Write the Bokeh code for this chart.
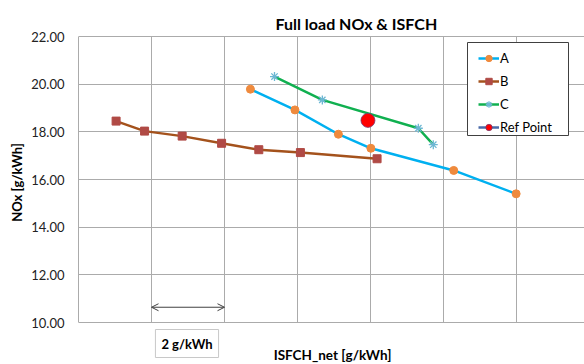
from bokeh.plotting import figure
from bokeh.models import (FixedTicker, Label, Legend, LegendItem, Arrow, OpenHead,
                          BoxAnnotation, NumeralTickFormatter, Range1d)
from bokeh.embed import file_html
from bokeh.resources import INLINE

title_text = "Full load NOx & ISFCH"
x_label = "ISFCH_net [g/kWh]"
y_label = "NOx [g/kWh]"
scale_label = "2 g/kWh"

# x values are relative (no tick labels in the original); grid every 2 g/kWh
a_x = [4.71, 5.93, 7.12, 8.01, 10.28, 11.99]
a_y = [19.79, 18.92, 17.90, 17.31, 16.38, 15.40]
b_x = [1.03, 1.81, 2.84, 3.92, 4.94, 6.08, 8.18]
b_y = [18.45, 18.03, 17.82, 17.52, 17.25, 17.13, 16.87]
c_x = [5.37, 6.68, 9.31, 9.72]
c_y = [20.32, 19.34, 18.15, 17.46]
ref_x = [7.93]
ref_y = [18.48]

x_grid = [0, 2, 4, 6, 8, 10, 12]
y_ticks = [10, 12, 14, 16, 18, 20, 22]
y_min, y_max = 10, 22
scale_start, scale_end, scale_y = 2, 4, 10.64

FONT = "Lato"
GRID = "#ababab"

# the frame covers the page right of the y axis so that the title and the
# texts under the x axis stay inside it; the data area is 36..322 px
px_per_unit = 286 / (y_max - y_min)
y_low = y_min - 42 / px_per_unit
y_high = y_max + 36 / px_per_unit

p = figure(width=584, height=364, output_backend="svg", toolbar_location=None,
           x_range=Range1d(0, 13.863), y_range=Range1d(y_low, y_high),
           x_axis_location=None,
           min_border_left=78, min_border_right=0, min_border_top=0, min_border_bottom=0)
p.outline_line_color = None
p.background_fill_color = "white"

p.yaxis.ticker = FixedTicker(ticks=y_ticks)
p.yaxis.bounds = (y_min, y_max)
p.yaxis.formatter = NumeralTickFormatter(format="0.00")
p.yaxis.major_tick_line_color = None
p.yaxis.minor_tick_line_color = None
p.yaxis.major_tick_out = 0
p.yaxis.major_label_standoff = 14
p.yaxis.axis_line_color = GRID
p.yaxis.major_label_text_font = FONT
p.yaxis.major_label_text_font_size = "13px"
p.yaxis.major_label_text_color = "#222222"
p.yaxis.axis_label = y_label
p.yaxis.axis_label_text_font = FONT
p.yaxis.axis_label_text_font_style = "bold"
p.yaxis.axis_label_text_font_size = "13px"
p.yaxis.axis_label_text_color = "#000000"
p.yaxis.axis_label_standoff = 3

p.xgrid.ticker = FixedTicker(ticks=x_grid)
p.xgrid.cross_bounds = (y_min, y_max)
p.xgrid.grid_line_color = GRID
p.ygrid.grid_line_color = GRID

ra_l = p.line(a_x, a_y, line_color="#00b0f0", line_width=2.5)
ra_m = p.scatter(a_x, a_y, marker="circle", size=8, fill_color="#ef8a3d", line_color="#ef8a3d")
rb_l = p.line(b_x, b_y, line_color="#a4521c", line_width=2.5)
rb_m = p.scatter(b_x, b_y, marker="square", size=8, fill_color="#b04a45", line_color="#b04a45")
rc_l = p.line(c_x, c_y, line_color="#10b050", line_width=2.5)
rc_m = p.scatter(c_x, c_y, marker="asterisk", size=9, fill_color=None, line_color="#6db7d3", line_width=1.3)
rr_l = p.line(ref_x, ref_y, line_color="#4a6aa8", line_width=2.5)
rr_m = p.scatter(ref_x, ref_y, marker="circle", size=14, fill_color="#ff0000", line_color="#7a3a70", line_width=0.8)

# scale arrow
p.add_layout(Arrow(x_start=scale_start, x_end=scale_end, y_start=scale_y, y_end=scale_y,
                   line_color="#404040", line_width=1,
                   start=OpenHead(size=7, line_color="#404040", line_width=1),
                   end=OpenHead(size=7, line_color="#404040", line_width=1)))

# legend box (screen units, from the frame's bottom-left corner)
p.add_layout(BoxAnnotation(left=389, right=490, top=322, bottom=229,
                           left_units="screen", right_units="screen",
                           top_units="screen", bottom_units="screen",
                           fill_color="white", fill_alpha=1.0,
                           line_color="#404040", line_width=1, line_alpha=1.0))

legend = Legend(items=[
    LegendItem(label="A", renderers=[ra_l, ra_m]),
    LegendItem(label="B", renderers=[rb_l, rb_m]),
    LegendItem(label="C", renderers=[rc_l, rc_m]),
    LegendItem(label="Ref Point", renderers=[rr_l, rr_m]),
], location=(400, 229))
legend.border_line_color = None
legend.background_fill_alpha = 0
legend.padding = 4
legend.margin = 0
legend.spacing = 7
legend.glyph_width = 21
legend.glyph_height = 16
legend.label_height = 16
legend.label_standoff = 1
legend.label_text_font = FONT
legend.label_text_font_size = "13px"
legend.label_text_color = "#000000"
p.add_layout(legend)

p.add_layout(Label(x=197, y=341.5, x_units="screen", y_units="screen", text=title_text,
                   text_align="left", text_baseline="alphabetic", text_font=FONT,
                   text_font_style="bold", text_font_size="16px", text_color="#000000"))
p.add_layout(Label(x=254, y=10, x_units="screen", y_units="screen", text=x_label,
                   text_align="center", text_baseline="middle", text_font=FONT,
                   text_font_style="bold", text_font_size="13.5px", text_color="#000000"))
p.add_layout(Label(x=108.5, y=21, x_units="screen", y_units="screen", text=scale_label,
                   text_align="center", text_baseline="middle", text_font=FONT,
                   text_font_style="bold", text_font_size="13px", text_color="#000000",
                   border_line_color="#c8c8c8", border_line_width=1,
                   background_fill_color="white", padding=6))

open("out.html", "w").write(file_html(p, INLINE))
